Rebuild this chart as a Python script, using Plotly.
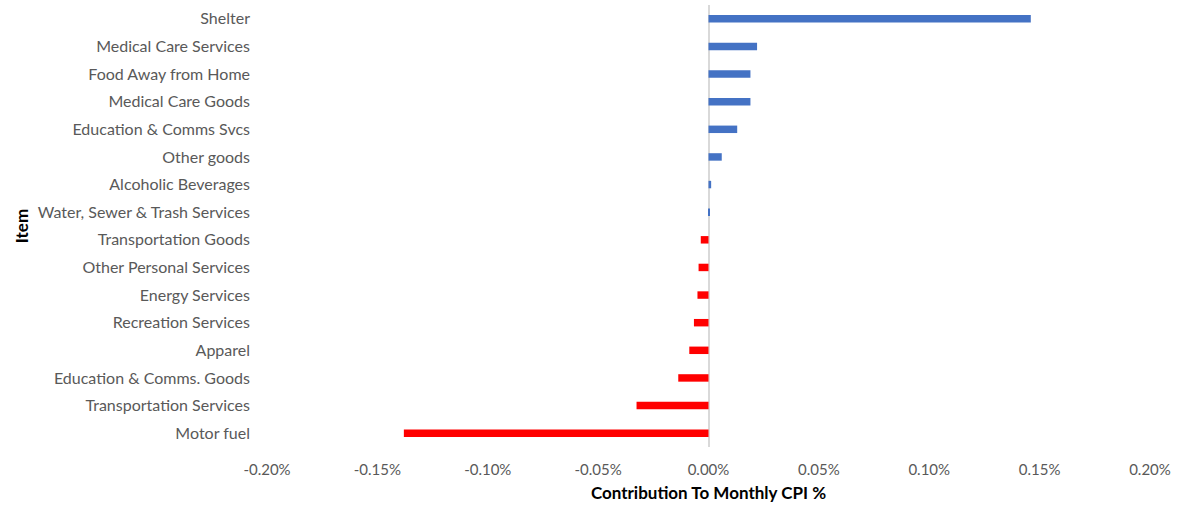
import plotly.graph_objects as go

# CPI components, top to bottom, with their contribution to the monthly CPI change (percentage points)
items = [
    "Shelter",
    "Medical Care Services",
    "Food Away from Home",
    "Medical Care Goods",
    "Education & Comms Svcs",
    "Other goods",
    "Alcoholic Beverages",
    "Water, Sewer & Trash Services",
    "Transportation Goods",
    "Other Personal Services",
    "Energy Services",
    "Recreation Services",
    "Apparel",
    "Education & Comms. Goods",
    "Transportation Services",
    "Motor fuel",
]
contribution = [
    0.146, 0.022, 0.019, 0.019, 0.013, 0.006, 0.0012, 0.0005,
    -0.0035, -0.0045, -0.005, -0.0066, -0.0087, -0.0137, -0.0326, -0.138,
]

x_ticks = [-0.20, -0.15, -0.10, -0.05, 0.0, 0.05, 0.10, 0.15, 0.20]

POS_COLOR = "#4472C4"
NEG_COLOR = "#FF0000"
bar_colors = [POS_COLOR if v >= 0 else NEG_COLOR for v in contribution]

FONT = "Lato"
LABEL_GREY = "#595959"

fig = go.Figure(
    go.Bar(
        x=contribution,
        y=items,
        orientation="h",
        marker=dict(color=bar_colors, line=dict(width=0)),
        width=0.27,
        hoverinfo="x+y",
    )
)

fig.update_layout(
    width=1180,
    height=510,
    margin=dict(l=267, r=30, t=5, b=63),
    paper_bgcolor="white",
    plot_bgcolor="white",
    showlegend=False,
    font=dict(family=FONT, size=15, color=LABEL_GREY),
)

fig.update_xaxes(
    range=[-0.2, 0.2],
    tickvals=x_ticks,
    ticktext=[f"{v:.2f}%" for v in x_ticks],
    showgrid=False,
    showline=False,
    zeroline=True,
    zerolinecolor="#D9D9D9",
    zerolinewidth=1.5,
    ticks="",
    ticklabelstandoff=12,
    tickfont=dict(family=FONT, size=15, color=LABEL_GREY),
    title=dict(
        text="<b>Contribution To Monthly CPI %</b>",
        font=dict(family=FONT, size=17, color="#000000"),
        standoff=10,
    ),
)

fig.update_yaxes(
    categoryorder="array",
    categoryarray=items,
    autorange="reversed",
    showgrid=False,
    showline=False,
    zeroline=False,
    ticks="",
    ticklabelstandoff=16,
    tickfont=dict(family=FONT, size=16, color=LABEL_GREY),
    title=dict(
        text="<b>Item</b>",
        font=dict(family=FONT, size=17, color="#000000"),
        standoff=4,
    ),
)

fig.write_html("out.html")
